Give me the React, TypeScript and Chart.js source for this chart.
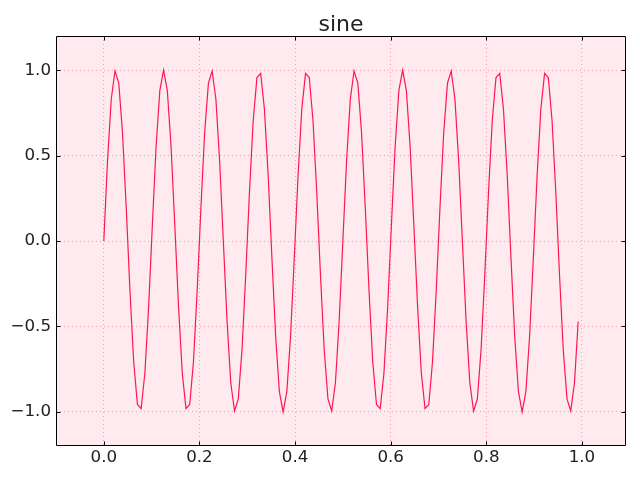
import React, { useEffect, useRef } from "react";
import { Chart, registerables } from "chart.js";

Chart.register(...registerables);

const TITLE = "sine";

const T_VALUES: number[] = [
  0, 0.0078, 0.0156, 0.0234, 0.0313, 0.0391, 0.0469, 0.0547, 0.0625, 0.0703, 0.0781, 0.0859, 0.0938, 0.1016, 0.1094, 0.1172,
  0.125, 0.1328, 0.1406, 0.1484, 0.1563, 0.1641, 0.1719, 0.1797, 0.1875, 0.1953, 0.2031, 0.2109, 0.2188, 0.2266, 0.2344, 0.2422,
  0.25, 0.2578, 0.2656, 0.2734, 0.2813, 0.2891, 0.2969, 0.3047, 0.3125, 0.3203, 0.3281, 0.3359, 0.3438, 0.3516, 0.3594, 0.3672,
  0.375, 0.3828, 0.3906, 0.3984, 0.4063, 0.4141, 0.4219, 0.4297, 0.4375, 0.4453, 0.4531, 0.4609, 0.4688, 0.4766, 0.4844, 0.4922,
  0.5, 0.5078, 0.5156, 0.5234, 0.5313, 0.5391, 0.5469, 0.5547, 0.5625, 0.5703, 0.5781, 0.5859, 0.5938, 0.6016, 0.6094, 0.6172,
  0.625, 0.6328, 0.6406, 0.6484, 0.6563, 0.6641, 0.6719, 0.6797, 0.6875, 0.6953, 0.7031, 0.7109, 0.7188, 0.7266, 0.7344, 0.7422,
  0.75, 0.7578, 0.7656, 0.7734, 0.7813, 0.7891, 0.7969, 0.8047, 0.8125, 0.8203, 0.8281, 0.8359, 0.8438, 0.8516, 0.8594, 0.8672,
  0.875, 0.8828, 0.8906, 0.8984, 0.9063, 0.9141, 0.9219, 0.9297, 0.9375, 0.9453, 0.9531, 0.9609, 0.9688, 0.9766, 0.9844, 0.9922,
];

const SINE_VALUES: number[] = [
  0, 0.471, 0.831, 0.995, 0.924, 0.634, 0.195, -0.29, -0.707, -0.957, -0.981, -0.773, -0.383, 0.098, 0.556, 0.882,
  1.0, 0.882, 0.556, 0.098, -0.383, -0.773, -0.981, -0.957, -0.707, -0.29, 0.195, 0.634, 0.924, 0.995, 0.831, 0.471,
  0, -0.471, -0.831, -0.995, -0.924, -0.634, -0.195, 0.29, 0.707, 0.957, 0.981, 0.773, 0.383, -0.098, -0.556, -0.882,
  -1.0, -0.882, -0.556, -0.098, 0.383, 0.773, 0.981, 0.957, 0.707, 0.29, -0.195, -0.634, -0.924, -0.995, -0.831, -0.471,
  0, 0.471, 0.831, 0.995, 0.924, 0.634, 0.195, -0.29, -0.707, -0.957, -0.981, -0.773, -0.383, 0.098, 0.556, 0.882,
  1.0, 0.882, 0.556, 0.098, -0.383, -0.773, -0.981, -0.957, -0.707, -0.29, 0.195, 0.634, 0.924, 0.995, 0.831, 0.471,
  0, -0.471, -0.831, -0.995, -0.924, -0.634, -0.195, 0.29, 0.707, 0.957, 0.981, 0.773, 0.383, -0.098, -0.556, -0.882,
  -1.0, -0.882, -0.556, -0.098, 0.383, 0.773, 0.981, 0.957, 0.707, 0.29, -0.195, -0.634, -0.924, -0.995, -0.831, -0.471,
];

const X_TICKS: number[] = [0, 0.2, 0.4, 0.6, 0.8, 1.0];
const Y_TICKS: number[] = [-1.0, -0.5, 0, 0.5, 1.0];
const X_MIN = -0.1;
const X_MAX = 1.0922;
const Y_MIN = -1.2;
const Y_MAX = 1.2;

const FONT = "'DejaVu Sans', sans-serif";
const BG = "#ffebef";
const LINE = "#ff1650";
const GRID = "#eea3b5";

const fmt = (v: number) => {
  const s = Math.abs(v).toFixed(1);
  return v < -1e-9 ? "\u2212" + s : s;
};

const framePlugin = {
  id: "frame",
  beforeDraw(chart: any) {
    const { ctx, chartArea: a } = chart;
    ctx.save();
    ctx.fillStyle = BG;
    ctx.fillRect(a.left, a.top, a.right - a.left, a.bottom - a.top);
    ctx.restore();
  },
  afterDraw(chart: any) {
    const { ctx, chartArea: a, scales } = chart;
    ctx.save();
    ctx.strokeStyle = "#000";
    ctx.lineWidth = 1;
    ctx.setLineDash([]);
    const L = Math.round(a.left) + 0.5;
    const R = Math.round(a.right) - 0.5;
    const T = Math.round(a.top) + 0.5;
    const B = Math.round(a.bottom) - 0.5;
    ctx.beginPath();
    ctx.rect(L, T, R - L, B - T);
    ctx.stroke();
    const len = 4;
    ctx.beginPath();
    for (const v of X_TICKS) {
      const x = Math.round(scales.x.getPixelForValue(v)) + 0.5;
      ctx.moveTo(x, B);
      ctx.lineTo(x, B - len);
      ctx.moveTo(x, T);
      ctx.lineTo(x, T + len);
    }
    for (const v of Y_TICKS) {
      const y = Math.round(scales.y.getPixelForValue(v)) + 0.5;
      ctx.moveTo(L, y);
      ctx.lineTo(L + len, y);
      ctx.moveTo(R, y);
      ctx.lineTo(R - len, y);
    }
    ctx.stroke();
    ctx.restore();
  },
};

export default function App() {
  const ref = useRef<HTMLCanvasElement | null>(null);
  useEffect(() => {
    if (!ref.current) return;
    const chart = new Chart(ref.current, {
      type: "line",
      data: {
        datasets: [
          {
            label: TITLE,
            data: T_VALUES.map((t, i) => ({ x: t, y: SINE_VALUES[i] })),
            borderColor: LINE,
            borderWidth: 1.2,
            pointRadius: 0,
            fill: false,
            tension: 0,
          },
        ],
      },
      options: {
        animation: false,
        responsive: false,
        devicePixelRatio: 1,
        layout: { padding: { top: 0, right: 14, bottom: 0, left: 0 } },
        plugins: {
          legend: { display: false },
          tooltip: { enabled: false },
          title: {
            display: true,
            text: TITLE,
            fullSize: false,
            color: "#222",
            font: { family: FONT, size: 22, weight: "normal", lineHeight: 1 },
            padding: { top: 14, bottom: 0 },
          },
        },
        scales: {
          x: {
            type: "linear",
            min: X_MIN,
            max: X_MAX,
            afterBuildTicks: (s: any) => {
              s.ticks = X_TICKS.map((v) => ({ value: v }));
            },
            afterFit: (s: any) => {
              s.height = 34;
            },
            ticks: {
              autoSkip: false,
              maxRotation: 0,
              padding: 2,
              color: "#222",
              font: { family: FONT, size: 16.7 },
              callback: (v: any) => fmt(Number(v)),
            },
            grid: { color: GRID, lineWidth: 1, drawTicks: false },
            border: { display: false, dash: [1, 3] },
          },
          y: {
            type: "linear",
            min: Y_MIN,
            max: Y_MAX,
            afterBuildTicks: (s: any) => {
              s.ticks = Y_TICKS.map((v) => ({ value: v }));
            },
            afterFit: (s: any) => {
              s.width = 56;
            },
            ticks: {
              autoSkip: false,
              padding: 5,
              color: "#222",
              font: { family: FONT, size: 16.7 },
              callback: (v: any) => fmt(Number(v)),
            },
            grid: { color: GRID, lineWidth: 1, drawTicks: false },
            border: { display: false, dash: [1, 3] },
          },
        },
      },
      plugins: [framePlugin],
    });
    return () => chart.destroy();
  }, []);
  return (
    <div style={{ position: "fixed", left: 0, top: 0, width: 640, height: 480, background: "#fff" }}>
      <canvas ref={ref} width={640} height={480} style={{ width: 640, height: 480, display: "block" }} />
    </div>
  );
}
